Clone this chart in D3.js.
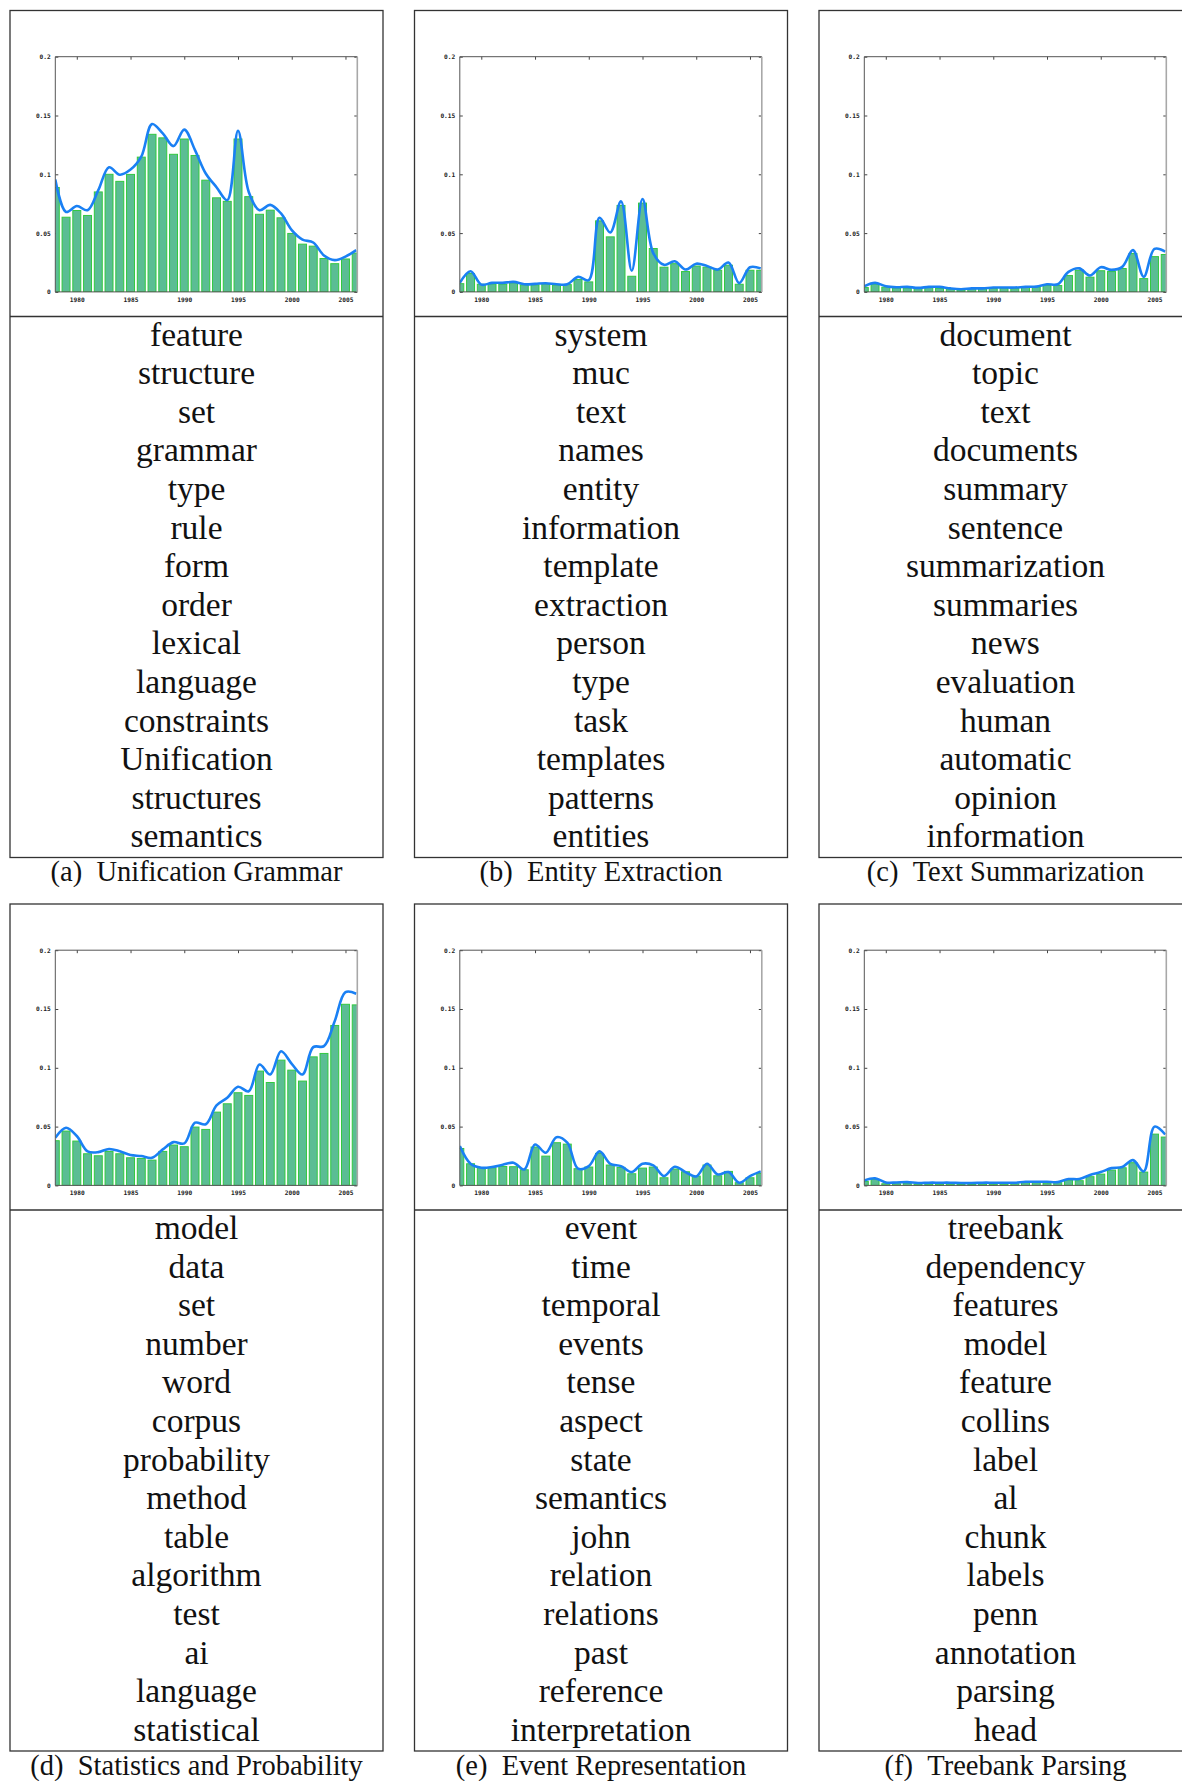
<!DOCTYPE html>
<html>
<head>
<meta charset="utf-8">
<script src="https://cdn.jsdelivr.net/npm/d3@7"></script>
<style>
  html, body { margin: 0; padding: 0; background: #fff; overflow: hidden; }
  svg { display: block; }
</style>
</head>
<body>
<svg id="fig" width="1182" height="1781"></svg>
<script>
// Years on the x axis (one bar per year)
const years = [1978,1979,1980,1981,1982,1983,1984,1985,1986,1987,1988,1989,1990,1991,1992,
               1993,1994,1995,1996,1997,1998,1999,2000,2001,2002,2003,2004,2005,2006];

// Axis ticks
const xTickValues = [1980, 1985, 1990, 1995, 2000, 2005];
const yTickValues = [0, 0.05, 0.1, 0.15, 0.2];
const yTickLabels = ["0", "0.05", "0.1", "0.15", "0.2"];

// (a) Unification Grammar
const barsA  = [0.0888,0.0635,0.0692,0.065,0.085,0.100,0.094,0.0999,0.1146,0.134,0.131,0.117,0.130,0.116,0.095,
                0.080,0.077,0.130,0.081,0.066,0.0695,0.063,0.0497,0.0406,0.0389,0.0284,0.024,0.028,0.033];
const curveA = [0.0956,0.068,0.073,0.0695,0.0865,0.106,0.0996,0.104,0.115,0.1427,0.1348,0.124,0.138,0.1206,0.1007,
                0.089,0.078,0.137,0.085,0.0695,0.074,0.0667,0.0525,0.0445,0.042,0.031,0.027,0.030,0.0355];
const wordsA = ["feature","structure","set","grammar","type","rule","form","order","lexical","language",
                "constraints","Unification","structures","semantics"];

// (b) Entity Extraction
const barsB  = [0.007,0.0156,0.0065,0.0068,0.0065,0.0077,0.006,0.006,0.0068,0.0057,0.0062,0.0105,0.0085,0.0604,0.0468,
                0.0735,0.0133,0.0755,0.0369,0.021,0.024,0.0173,0.022,0.021,0.0184,0.0227,0.0065,0.0184,0.0184];
const curveB = [0.0077,0.0176,0.0062,0.0077,0.0077,0.0085,0.0065,0.0068,0.0074,0.0065,0.0065,0.0128,0.010,0.063,0.0505,
                0.077,0.018,0.079,0.033,0.023,0.026,0.019,0.024,0.022,0.019,0.025,0.0075,0.021,0.020];
const wordsB = ["system","muc","text","names","entity","information","template","extraction","person","type",
                "task","templates","patterns","entities"];

// (c) Text Summarization
const barsC  = [0.0037,0.0065,0.004,0.0034,0.0034,0.0028,0.0037,0.003,0.0023,0.0014,0.0026,0.0026,0.003,0.0034,0.0028,
                0.004,0.004,0.0054,0.0054,0.0139,0.0184,0.0125,0.018,0.0173,0.0199,0.0326,0.0113,0.030,0.0318];
const curveC = [0.0048,0.0077,0.0048,0.004,0.0043,0.0034,0.0043,0.0043,0.003,0.0023,0.003,0.003,0.0037,0.0037,0.0037,
                0.0043,0.0045,0.0065,0.0065,0.017,0.020,0.0139,0.021,0.0187,0.0213,0.0355,0.0128,0.0366,0.0343];
const wordsC = ["document","topic","text","documents","summary","sentence","summarization","summaries","news",
                "evaluation","human","automatic","opinion","information"];

// (d) Statistics and Probability
const barsD  = [0.038,0.0462,0.0377,0.0269,0.0252,0.0289,0.0269,0.0235,0.0229,0.0215,0.0289,0.0343,0.0329,0.0496,0.0476,
                0.0623,0.0694,0.0788,0.0765,0.0972,0.0875,0.1065,0.098,0.0887,0.1093,0.1122,0.136,0.154,0.1535];
const curveD = [0.0405,0.049,0.042,0.029,0.0283,0.031,0.029,0.0258,0.025,0.0235,0.0306,0.0368,0.0357,0.0533,0.052,
                0.068,0.0745,0.0839,0.080,0.1028,0.0943,0.114,0.1034,0.0943,0.1176,0.1184,0.1397,0.1643,0.163];
const wordsD = ["model","data","set","number","word","corpus","probability","method","table","algorithm",
                "test","ai","language","statistical"];

// (e) Event Representation
const barsE  = [0.0314,0.0184,0.015,0.015,0.0161,0.0159,0.0133,0.0326,0.0249,0.0363,0.0351,0.0142,0.0156,0.0272,0.0173,
                0.0153,0.0099,0.0147,0.0156,0.0065,0.0139,0.0116,0.0079,0.0173,0.0082,0.0119,0.0023,0.0065,0.0102];
const curveE = [0.0334,0.0184,0.015,0.0156,0.0176,0.0193,0.0136,0.0348,0.0278,0.041,0.0363,0.0142,0.0164,0.0289,0.0184,
                0.0164,0.0113,0.0184,0.017,0.0079,0.0159,0.0113,0.0076,0.0184,0.0093,0.0113,0.0023,0.0079,0.0119];
const wordsE = ["event","time","temporal","events","tense","aspect","state","semantics","john","relation",
                "relations","past","reference","interpretation"];

// (f) Treebank Parsing
const barsF  = [0.0034,0.0051,0.0014,0.0014,0.0017,0.0011,0.0011,0.0011,0.0011,0.0008,0.0008,0.0011,0.0011,0.0011,0.0014,
                0.0023,0.0023,0.002,0.0023,0.0045,0.004,0.0074,0.0096,0.013,0.015,0.0193,0.0113,0.0436,0.0411];
const curveF = [0.0042,0.006,0.0025,0.0025,0.0028,0.002,0.0023,0.0023,0.0023,0.002,0.002,0.0023,0.0023,0.0023,0.0023,
                0.0031,0.0031,0.0031,0.0028,0.0054,0.0054,0.0088,0.0113,0.0147,0.0156,0.0215,0.0119,0.050,0.0433];
const wordsF = ["treebank","dependency","features","model","feature","collins","label","al","chunk","labels",
                "penn","annotation","parsing","head"];

const panels = [
  { tag: "(a)", title: "Unification Grammar",        bars: barsA, curve: curveA, words: wordsA, col: 0, row: 0 },
  { tag: "(b)", title: "Entity Extraction",          bars: barsB, curve: curveB, words: wordsB, col: 1, row: 0 },
  { tag: "(c)", title: "Text Summarization",         bars: barsC, curve: curveC, words: wordsC, col: 2, row: 0 },
  { tag: "(d)", title: "Statistics and Probability", bars: barsD, curve: curveD, words: wordsD, col: 0, row: 1 },
  { tag: "(e)", title: "Event Representation",       bars: barsE, curve: curveE, words: wordsE, col: 1, row: 1 },
  { tag: "(f)", title: "Treebank Parsing",           bars: barsF, curve: curveF, words: wordsF, col: 2, row: 1 }
];

// Layout
const colX = [10, 414.5, 819];
const rowY = [10.5, 904];
const boxW = 373, boxH = 847, chartH = 306;
const plot = { left: 45.3, top: 46.2, width: 302, height: 235.2 };
const wordTop = 335, wordStep = 38.6, captionY = 870.5;
const serif = "'Liberation Serif', 'Times New Roman', serif";

const svg = d3.select("#fig");
svg.append("rect").attr("width", 1182).attr("height", 1781).attr("fill", "#fff");

const x = d3.scaleLinear().domain([1978, 2006.1]).range([0, plot.width]);
const y = d3.scaleLinear().domain([0, 0.2]).range([plot.height, 0]);
const barW = (x(1979) - x(1978)) * 0.74;

panels.forEach((p, i) => {
  const g = svg.append("g").attr("transform", `translate(${colX[p.col]},${rowY[p.row]})`);

  // Frame: chart cell on top, word list below
  g.append("rect").attr("x", 0).attr("y", 0).attr("width", boxW).attr("height", boxH)
    .attr("fill", "none").attr("stroke", "#333").attr("stroke-width", 1.3);
  g.append("line").attr("x1", 0).attr("x2", boxW).attr("y1", chartH).attr("y2", chartH)
    .attr("stroke", "#333").attr("stroke-width", 1.3);

  const pg = g.append("g").attr("transform", `translate(${plot.left},${plot.top})`);
  const clipId = "clip" + i;
  pg.append("clipPath").attr("id", clipId)
    .append("rect").attr("width", plot.width).attr("height", plot.height);

  const tickStyle = sel => {
    sel.select(".domain").remove();
    sel.selectAll(".tick line").attr("stroke", "#444").attr("stroke-width", 1);
    sel.selectAll(".tick text")
      .attr("font-family", "'DejaVu Sans Mono', 'Liberation Mono', monospace")
      .attr("font-weight", "bold")
      .attr("font-size", 6.2)
      .attr("fill", "#222");
  };

  // Inward ticks on all four sides; labels on left and bottom
  pg.append("g").call(d3.axisLeft(y).tickValues(yTickValues).tickSize(-3).tickPadding(4.5)
    .tickFormat((d, k) => yTickLabels[k])).call(tickStyle);
  pg.append("g").attr("transform", `translate(0,${plot.height})`)
    .call(d3.axisBottom(x).tickValues(xTickValues).tickSize(-3).tickPadding(5.5).tickFormat(d3.format("d")))
    .call(tickStyle);
  pg.append("g").attr("transform", `translate(${plot.width},0)`)
    .call(d3.axisRight(y).tickValues(yTickValues).tickSize(-3).tickFormat("")).call(tickStyle);
  pg.append("g")
    .call(d3.axisTop(x).tickValues(xTickValues).tickSize(-3).tickFormat("")).call(tickStyle);

  const data = years.map((yr, k) => ({ year: yr, bar: p.bars[k], curve: p.curve[k] }));
  const inner = pg.append("g").attr("clip-path", `url(#${clipId})`);

  inner.selectAll("rect.bar").data(data).join("rect")
    .attr("class", "bar")
    .attr("x", d => x(d.year) - barW / 2)
    .attr("width", barW)
    .attr("y", d => y(d.bar))
    .attr("height", d => y(0) - y(d.bar))
    .attr("fill", "#5bbd94")
    .attr("stroke", "#33c840")
    .attr("stroke-width", 1);

  inner.append("path").datum(data)
    .attr("fill", "none")
    .attr("stroke", "#1a80f4")
    .attr("stroke-width", 2.6)
    .attr("stroke-linejoin", "round")
    .attr("d", d3.line().x(d => x(d.year)).y(d => y(d.curve)).curve(d3.curveCatmullRom.alpha(0.5)));

  // Plot border
  pg.append("path").attr("d", `M${plot.width},0H0V${plot.height}H${plot.width}`)
    .attr("fill", "none").attr("stroke", "#555").attr("stroke-width", 1);
  pg.append("line").attr("x1", plot.width).attr("x2", plot.width).attr("y1", 0).attr("y2", plot.height)
    .attr("stroke", "#a8a8a8").attr("stroke-width", 1.6);

  // Word list
  g.append("g").selectAll("text").data(p.words).join("text")
    .attr("x", boxW / 2)
    .attr("y", (d, k) => wordTop + k * wordStep)
    .attr("text-anchor", "middle")
    .attr("font-family", serif)
    .attr("font-size", 33.5)
    .attr("fill", "#111")
    .text(d => d);

  // Caption
  g.append("text")
    .attr("x", boxW / 2)
    .attr("y", captionY)
    .attr("text-anchor", "middle")
    .attr("font-family", serif)
    .attr("font-size", 28.5)
    .attr("fill", "#111")
    .attr("xml:space", "preserve")
    .text(p.tag + "\u2002" + p.title);
});
</script>
</body>
</html>
